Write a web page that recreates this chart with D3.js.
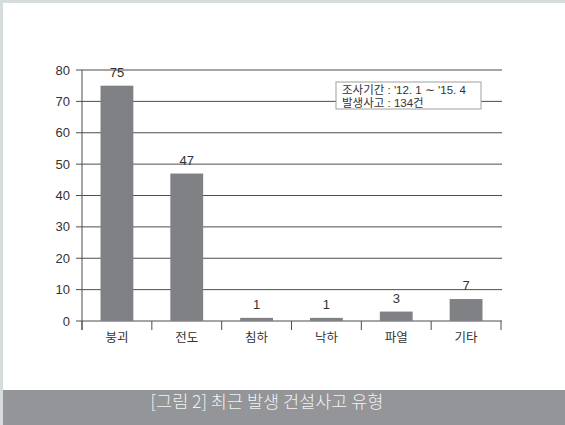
<!DOCTYPE html>
<html>
<head>
<meta charset="utf-8">
<script src="https://cdn.jsdelivr.net/npm/d3@7"></script>
<style>
  body { margin: 0; background: #fff; }
  svg text { font-family: "Liberation Sans", "Noto Sans CJK KR", sans-serif; }
  svg text.caption { font-family: "Noto Sans CJK KR", sans-serif; }
</style>
</head>
<body>
<div id="chart"></div>
<script>
// data
const categories = ["붕괴", "전도", "침하", "낙하", "파열", "기타"];
const counts = [75, 47, 1, 1, 3, 7];
const yTicks = [0, 10, 20, 30, 40, 50, 60, 70, 80];
const legendLines = ["조사기간 : '12. 1 ∼ '15. 4", "발생사고 : 134건"];
const caption = "[그림 2] 최근 발생 건설사고 유형";

var width = 565, height = 425;

var svg = d3.select("#chart").append("svg")
    .attr("width", width)
    .attr("height", height);

// frame
svg.append("rect").attr("x", 0).attr("y", 0).attr("width", width).attr("height", height).attr("fill", "#d6dcdd");
svg.append("rect").attr("x", 3).attr("y", 3).attr("width", width - 3).attr("height", height - 3).attr("fill", "#fff");

const x = d3.scaleBand().domain(categories).range([82, 501]).paddingInner(0.53).paddingOuter(0.265);
const y = d3.scaleLinear().domain([0, 80]).range([321, 70]);

var g = svg.append("g");

// gridlines
g.selectAll("line.grid").data(yTicks).enter().append("line")
    .attr("x1", 76).attr("x2", 502)
    .attr("y1", d => y(d)).attr("y2", d => y(d))
    .attr("stroke", "#4d4d4d").attr("stroke-width", 1);

// y axis line
g.append("line").attr("x1", 82).attr("x2", 82).attr("y1", y(80)).attr("y2", 330)
    .attr("stroke", "#4d4d4d");

// y tick labels
g.selectAll("text.ytick").data(yTicks).enter().append("text")
    .attr("x", 70).attr("y", d => y(d) + 4.5)
    .attr("text-anchor", "end")
    .attr("font-size", 13).attr("fill", "#333")
    .text(d => d);

// x category ticks
const bandStep = x.step();
const edges = categories.map(c => x(c) - x.paddingInner() * bandStep / 2).concat([501]);
g.selectAll("line.xtick").data(edges).enter().append("line")
    .attr("x1", d => d).attr("x2", d => d)
    .attr("y1", y(0)).attr("y2", 330)
    .attr("stroke", "#4d4d4d");

// bars
g.selectAll("rect.bar").data(counts).enter().append("rect")
    .attr("x", (d, i) => x(categories[i]))
    .attr("width", x.bandwidth())
    .attr("y", d => y(d))
    .attr("height", d => y(0) - y(d))
    .attr("fill", "#808184");

// value labels
g.selectAll("text.val").data(counts).enter().append("text")
    .attr("x", (d, i) => x(categories[i]) + x.bandwidth() / 2)
    .attr("y", d => y(d) - 9)
    .attr("text-anchor", "middle")
    .attr("font-size", 13).attr("fill", "#333")
    .text(d => d);

// category labels
g.selectAll("text.cat").data(categories).enter().append("text")
    .attr("x", d => x(d) + x.bandwidth() / 2)
    .attr("y", 342)
    .attr("text-anchor", "middle")
    .attr("font-size", 12.5).attr("fill", "#333")
    .text(d => d);

// legend box
g.append("rect").attr("x", 336).attr("y", 82).attr("width", 145).attr("height", 27)
    .attr("fill", "#fff").attr("stroke", "#a0a0a0");
g.selectAll("text.leg").data(legendLines).enter().append("text")
    .attr("x", 342).attr("y", (d, i) => 94 + i * 12.5)
    .attr("font-size", 11.5).attr("fill", "#333")
    .text(d => d);

// caption bar
svg.append("rect").attr("x", 3).attr("y", 390).attr("width", width - 3).attr("height", 35).attr("fill", "#939598");
svg.append("text").attr("class", "caption").attr("x", 267).attr("y", 408)
    .attr("text-anchor", "middle")
    .attr("font-size", 17.5).attr("font-weight", 300).attr("fill", "#f2f2f2")
    .text(caption);
</script>
</body>
</html>
